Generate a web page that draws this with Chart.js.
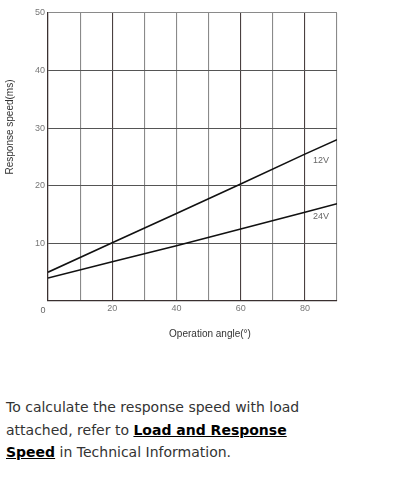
<!DOCTYPE html>
<html>
<head>
<meta charset="utf-8">
<script src="https://cdn.jsdelivr.net/npm/chart.js@4"></script>
<style>
  body { margin: 0; background: #fff; }
  #wrap { position: relative; width: 398px; height: 345px; }
  p { margin: 51px 0 0 6px; font-family: "DejaVu Sans", Verdana, sans-serif; font-size: 14px; line-height: 22.5px; color: #333; width: 312px; }
  p a { color: #000; font-weight: bold; text-decoration: underline; }
</style>
</head>
<body>
<div id="wrap"><canvas id="c"></canvas></div>
<p>To calculate the response speed with load attached, refer to <a>Load and Response Speed</a> in Technical Information.</p>
<script>
// operation angle (deg) and response speed (ms)
const angles = [0, 20, 40, 60, 80, 90];
const speed12V = [5, 10.1, 15.2, 20.3, 25.5, 28];
const speed24V = [4, 6.8, 9.6, 12.5, 15.4, 16.9];
const seriesNames = ['12V', '24V'];
const labelAt = [{ x: 85, y: 24.4 }, { x: 85, y: 14.7 }];

const darkX = [0, 20, 60, 80];

const labelsPlugin = {
  id: 'labels',
  afterDraw(chart) {
    const ctx = chart.ctx;
    const xs = chart.scales.x, ys = chart.scales.y;
    ctx.save();
    ctx.font = '9px "Liberation Sans", Arial, sans-serif';
    ctx.fillStyle = '#666';
    ctx.textAlign = 'center';
    ctx.textBaseline = 'middle';
    seriesNames.forEach((n, i) => {
      ctx.fillText(n, xs.getPixelForValue(labelAt[i].x), ys.getPixelForValue(labelAt[i].y));
    });
    // origin label
    ctx.fillText('0', xs.left - 5, ys.bottom + 10);
    // axis titles
    ctx.font = '10px "Liberation Sans", Arial, sans-serif';
    ctx.fillStyle = '#333';
    ctx.fillText('Operation angle(\u00b0)', 210, 334);
    ctx.translate(10, 127);
    ctx.rotate(-Math.PI / 2);
    ctx.fillText('Response speed(ms)', 0, 0);
    ctx.restore();
  }
};

const lineStyle = { borderColor: '#111', backgroundColor: '#111', borderWidth: 1.6, pointRadius: 0, tension: 0, fill: false };

new Chart(document.getElementById('c'), {
  type: 'line',
  data: {
    datasets: [
      { label: seriesNames[0], data: angles.map((a, i) => ({ x: a, y: speed12V[i] })), ...lineStyle },
      { label: seriesNames[1], data: angles.map((a, i) => ({ x: a, y: speed24V[i] })), ...lineStyle }
    ]
  },
  options: {
    responsive: true,
    maintainAspectRatio: false,
    animation: false,
    layout: { padding: { top: 13, right: 61, left: 0, bottom: 0 } },
    plugins: { legend: { display: false }, tooltip: { enabled: false } },
    scales: {
      x: {
        type: 'linear', min: 0, max: 90,
        afterFit(s) { s.height = 44; },
        ticks: {
          stepSize: 10, autoSkip: false, maxRotation: 0, padding: 2,
          color: '#777', font: { size: 9, family: '"Liberation Sans", Arial, sans-serif' },
          callback: v => (v > 0 && v % 20 === 0) ? v : ''
        },
        grid: {
          drawTicks: false,
          color: c => darkX.includes(c.tick.value) ? '#4a4040' : '#8a8a8a',
          lineWidth: 1.1
        },
        border: { color: '#3a3030', width: 1.2 }
      },
      y: {
        min: 0, max: 50,
        afterFit(s) { s.width = 48; },
        ticks: {
          stepSize: 10, padding: 3,
          color: '#777', font: { size: 9, family: '"Liberation Sans", Arial, sans-serif' },
          callback: v => v > 0 ? v : ''
        },
        grid: {
          drawTicks: false,
          color: c => c.tick.value === 50 ? '#8a8a8a' : '#555',
          lineWidth: 1.1
        },
        border: { color: '#3a3030', width: 1.2 }
      }
    }
  },
  plugins: [labelsPlugin]
});
</script>
</body>
</html>
